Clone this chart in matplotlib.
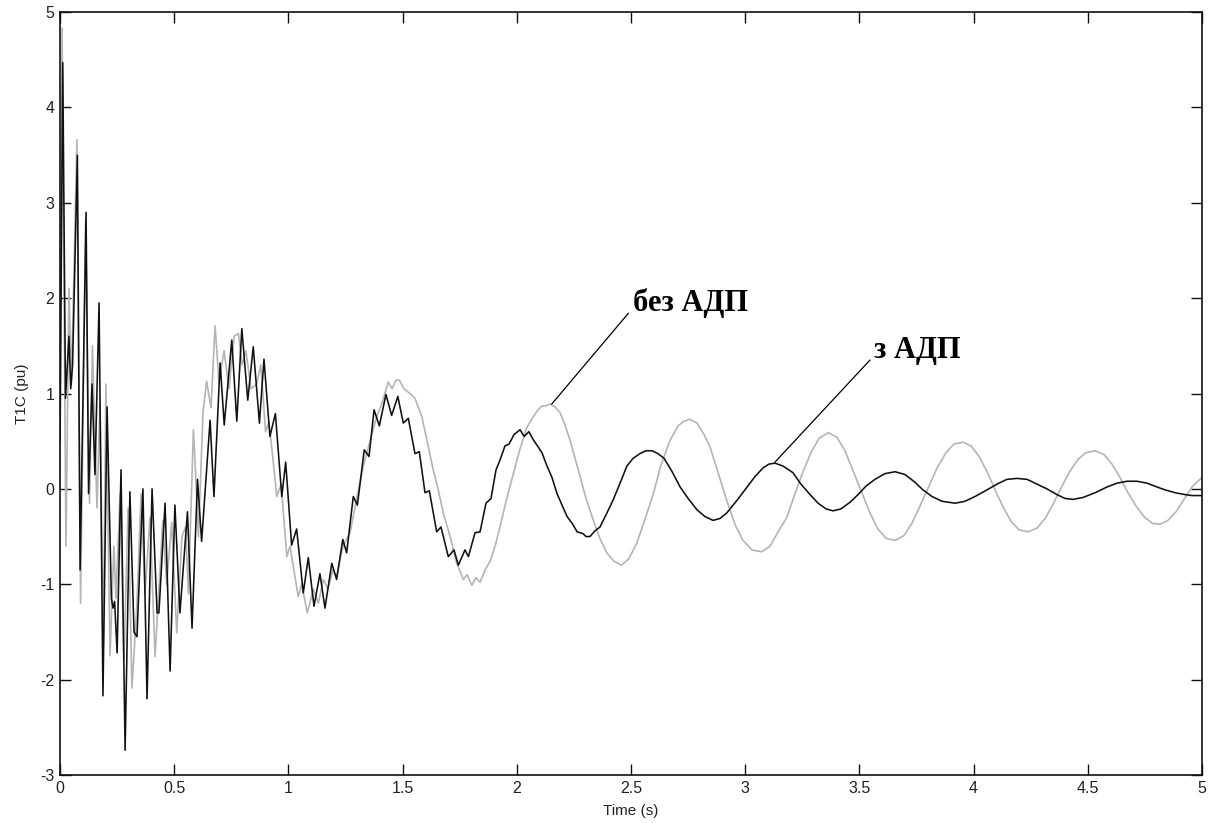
import matplotlib
matplotlib.use("Agg")
import matplotlib.pyplot as plt

plt.rcParams["axes.unicode_minus"] = False

# ---- data (time in s, torque in pu) ----
t_with = [0.000, 0.012, 0.024, 0.039, 0.047, 0.055, 0.076, 0.088, 0.114, 0.125,
          0.140, 0.153, 0.171, 0.188, 0.206, 0.225, 0.232, 0.239, 0.250, 0.267,
          0.285, 0.306, 0.324, 0.337, 0.363, 0.381, 0.403, 0.425, 0.433, 0.460,
          0.482, 0.503, 0.525, 0.558, 0.578, 0.602, 0.620, 0.657, 0.674, 0.701,
          0.719, 0.752, 0.774, 0.796, 0.822, 0.846, 0.873, 0.893, 0.919, 0.943,
          0.971, 0.988, 1.014, 1.036, 1.065, 1.087, 1.112, 1.138, 1.160, 1.190,
          1.211, 1.238, 1.255, 1.284, 1.302, 1.332, 1.353, 1.375, 1.398, 1.427,
          1.452, 1.479, 1.503, 1.525, 1.554, 1.573, 1.598, 1.617, 1.649, 1.668,
          1.700, 1.725, 1.744, 1.773, 1.788, 1.817, 1.839, 1.865, 1.887, 1.909,
          1.926, 1.948, 1.966, 1.988, 2.014, 2.032, 2.053, 2.071, 2.093, 2.110,
          2.132, 2.154, 2.176, 2.198, 2.220, 2.242, 2.264, 2.290, 2.303, 2.320,
          2.342, 2.364, 2.391, 2.421, 2.452, 2.482, 2.509, 2.539, 2.566, 2.592,
          2.618, 2.645, 2.680, 2.715, 2.750, 2.789, 2.824, 2.859, 2.890, 2.920,
          2.964, 3.008, 3.043, 3.078, 3.104, 3.130, 3.165, 3.209, 3.244, 3.284,
          3.319, 3.354, 3.384, 3.419, 3.459, 3.494, 3.529, 3.568, 3.612, 3.656,
          3.700, 3.743, 3.778, 3.818, 3.862, 3.919, 3.962, 4.006, 4.059, 4.102,
          4.146, 4.190, 4.234, 4.278, 4.321, 4.365, 4.400, 4.435, 4.479, 4.532,
          4.584, 4.628, 4.672, 4.716, 4.759, 4.803, 4.838, 4.882, 4.926, 4.956,
          5.000]
y_with = [0.50, 4.47, 0.95, 1.60, 1.05, 1.30, 3.50, -0.85, 2.90, -0.05,
          1.10, 0.15, 1.95, -2.17, 0.86, -1.15, -1.25, -1.18, -1.72, 0.20,
          -2.74, -0.03, -1.50, -1.55, 0.00, -2.20, 0.00, -1.30, -1.30, -0.15,
          -1.91, -0.17, -1.30, -0.24, -1.46, 0.10, -0.55, 0.72, -0.08, 1.32,
          0.67, 1.56, 0.71, 1.68, 0.93, 1.49, 0.69, 1.36, 0.55, 0.79,
          -0.08, 0.28, -0.59, -0.42, -1.09, -0.72, -1.23, -0.89, -1.25, -0.78,
          -0.95, -0.53, -0.67, -0.08, -0.17, 0.41, 0.34, 0.83, 0.66, 0.99,
          0.77, 0.97, 0.69, 0.74, 0.37, 0.39, -0.04, -0.02, -0.45, -0.40,
          -0.71, -0.64, -0.80, -0.64, -0.71, -0.46, -0.45, -0.15, -0.10, 0.20,
          0.30, 0.45, 0.47, 0.57, 0.62, 0.55, 0.60, 0.52, 0.44, 0.38,
          0.24, 0.12, -0.05, -0.17, -0.29, -0.36, -0.45, -0.47, -0.50, -0.50,
          -0.44, -0.40, -0.27, -0.12, 0.06, 0.24, 0.32, 0.37, 0.40, 0.40,
          0.37, 0.32, 0.18, 0.02, -0.10, -0.22, -0.29, -0.33, -0.31, -0.25,
          -0.12, 0.02, 0.13, 0.22, 0.26, 0.27, 0.24, 0.17, 0.05, -0.06,
          -0.15, -0.21, -0.23, -0.21, -0.14, -0.06, 0.03, 0.10, 0.16, 0.18,
          0.15, 0.07, -0.01, -0.08, -0.13, -0.15, -0.13, -0.08, -0.01, 0.05,
          0.10, 0.11, 0.10, 0.05, 0.00, -0.06, -0.10, -0.11, -0.09, -0.04,
          0.02, 0.06, 0.08, 0.08, 0.06, 0.02, -0.01, -0.04, -0.06, -0.07,
          -0.07]

t_without = [0.000, 0.009, 0.026, 0.039, 0.050, 0.074, 0.090, 0.112, 0.129, 0.142,
             0.162, 0.175, 0.190, 0.201, 0.219, 0.236, 0.245, 0.263, 0.280, 0.298,
             0.315, 0.337, 0.355, 0.372, 0.394, 0.416, 0.450, 0.467, 0.489, 0.511,
             0.534, 0.550, 0.562, 0.584, 0.595, 0.606, 0.626, 0.642, 0.661, 0.679,
             0.696, 0.718, 0.740, 0.762, 0.781, 0.797, 0.814, 0.836, 0.861, 0.879,
             0.900, 0.915, 0.933, 0.949, 0.968, 0.993, 1.007, 1.043, 1.058, 1.083,
             1.109, 1.131, 1.153, 1.173, 1.195, 1.211, 1.239, 1.270, 1.299, 1.328,
             1.357, 1.387, 1.410, 1.437, 1.454, 1.471, 1.486, 1.506, 1.532, 1.554,
             1.584, 1.607, 1.634, 1.655, 1.678, 1.708, 1.737, 1.766, 1.782, 1.803,
             1.821, 1.839, 1.861, 1.883, 1.905, 1.926, 1.956, 1.985, 2.014, 2.043,
             2.065, 2.087, 2.109, 2.128, 2.145, 2.167, 2.189, 2.211, 2.233, 2.255,
             2.277, 2.303, 2.335, 2.364, 2.394, 2.426, 2.459, 2.491, 2.525, 2.561,
             2.598, 2.631, 2.671, 2.706, 2.732, 2.758, 2.789, 2.820, 2.846, 2.881,
             2.919, 2.955, 2.990, 3.030, 3.072, 3.109, 3.144, 3.182, 3.218, 3.253,
             3.288, 3.323, 3.364, 3.402, 3.437, 3.472, 3.511, 3.546, 3.581, 3.617,
             3.656, 3.695, 3.730, 3.765, 3.805, 3.840, 3.879, 3.914, 3.952, 3.989,
             4.024, 4.059, 4.094, 4.129, 4.164, 4.199, 4.239, 4.278, 4.313, 4.348,
             4.383, 4.418, 4.457, 4.492, 4.532, 4.571, 4.606, 4.641, 4.676, 4.711,
             4.746, 4.781, 4.816, 4.851, 4.886, 4.921, 4.956, 5.000]
y_without = [0.00, 4.83, -0.60, 2.10, 1.10, 3.66, -1.20, 2.80, -0.15, 1.50,
             -0.20, 0.90, -1.60, 1.10, -1.75, -0.60, -1.15, -0.05, -1.80, -0.20,
             -2.09, -1.20, -0.05, -1.10, -0.30, -1.76, -0.33, -1.00, -0.35, -1.51,
             -0.50, -0.40, -1.10, 0.62, 0.10, -0.50, 0.80, 1.13, 0.85, 1.71,
             1.12, 1.45, 1.05, 1.60, 1.63, 1.30, 1.45, 1.05, 1.10, 1.30,
             0.60, 0.70, 0.30, -0.08, 0.05, -0.71, -0.60, -1.13, -1.00, -1.30,
             -1.05, -1.20, -0.95, -1.05, -0.85, -0.92, -0.60, -0.46, -0.10, 0.24,
             0.50, 0.76, 0.90, 1.12, 1.05, 1.14, 1.14, 1.05, 1.00, 0.95,
             0.76, 0.50, 0.20, 0.00, -0.25, -0.50, -0.78, -0.95, -0.90, -1.01,
             -0.93, -0.98, -0.85, -0.76, -0.60, -0.40, -0.10, 0.16, 0.42, 0.64,
             0.73, 0.81, 0.87, 0.87, 0.89, 0.86, 0.80, 0.67, 0.51, 0.32,
             0.13, -0.10, -0.33, -0.52, -0.67, -0.76, -0.80, -0.73, -0.57, -0.32,
             -0.05, 0.25, 0.51, 0.66, 0.71, 0.73, 0.69, 0.57, 0.44, 0.17,
             -0.12, -0.37, -0.54, -0.64, -0.66, -0.60, -0.45, -0.30, -0.05, 0.18,
             0.38, 0.53, 0.59, 0.54, 0.40, 0.19, -0.04, -0.25, -0.42, -0.52,
             -0.54, -0.49, -0.36, -0.18, 0.03, 0.22, 0.38, 0.47, 0.49, 0.45,
             0.34, 0.18, -0.01, -0.19, -0.34, -0.43, -0.45, -0.41, -0.31, -0.16,
             0.01, 0.17, 0.31, 0.38, 0.40, 0.36, 0.26, 0.12, -0.04, -0.18,
             -0.29, -0.36, -0.37, -0.33, -0.24, -0.11, 0.02, 0.12]

x_ticks = [0, 0.5, 1, 1.5, 2, 2.5, 3, 3.5, 4, 4.5, 5]
x_tick_labels = ["0", "0.5", "1", "1.5", "2", "2.5", "3", "3.5", "4", "4.5", "5"]
y_ticks = [-3, -2, -1, 0, 1, 2, 3, 4, 5]
y_tick_labels = ["-3", "-2", "-1", "0", "1", "2", "3", "4", "5"]

label_without = "без АДП"
label_with = "з АДП"
# annotation anchors (curve point, text point)
ann_without = ((2.153, 0.89), (2.488, 1.84))
ann_with = ((3.130, 0.28), (3.546, 1.35))

# ---- figure ----
fig = plt.figure(figsize=(12.1, 8.23), dpi=100)
ax = fig.add_axes([0.0496, 0.0583, 0.9438, 0.9271])

ax.plot(t_without, y_without, color="#b4b4b4", lw=1.2, zorder=2)
ax.plot(t_with, y_with, color="#111111", lw=1.15, zorder=3)

ax.set_xlim(0, 5)
ax.set_ylim(-3, 5)
ax.set_xticks(x_ticks)
ax.set_xticklabels(x_tick_labels)
ax.set_yticks(y_ticks)
ax.set_yticklabels(y_tick_labels)

for lbl in ax.get_xticklabels() + ax.get_yticklabels():
    lbl.set_fontfamily("Liberation Sans")
    lbl.set_fontsize(11.5)
    lbl.set_color("#222222")

ax.tick_params(direction="in", length=8, width=1.0, top=True, right=True,
               pad=4, colors="#111111", labelcolor="#222222")
for s in ax.spines.values():
    s.set_linewidth(1.2)
    s.set_color("#111111")

ax.set_xlabel("Time (s)", fontdict=dict(family="Liberation Sans", size=11, color="#222222"),
              labelpad=6)
ax.set_ylabel("T1C (pu)", fontdict=dict(family="Liberation Sans", size=11, color="#222222"),
              labelpad=8)

txt_font = dict(family="Liberation Serif", weight="bold", size=22, color="black")
for (p_curve, p_text), label in ((ann_without, label_without), (ann_with, label_with)):
    ax.plot([p_curve[0], p_text[0]], [p_curve[1], p_text[1]], color="black", lw=0.9, zorder=4)
    ax.text(p_text[0] + 0.02, p_text[1] - 0.05, label, fontdict=txt_font,
            ha="left", va="bottom", zorder=5)

fig.savefig("out.png", dpi=100)
